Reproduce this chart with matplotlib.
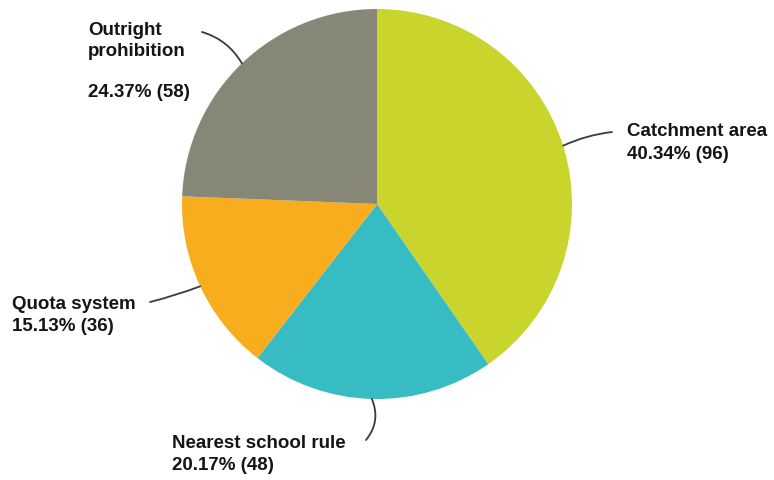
import numpy as np
import matplotlib
matplotlib.use("Agg")
import matplotlib.pyplot as plt

categories = ["Catchment area", "Nearest school rule", "Quota system", "Outright\nprohibition"]
values = [96, 48, 36, 58]
colors = ["#c9d42c", "#36bcc2", "#f8ad1e", "#878777"]

W, H = 774, 480
fig = plt.figure(figsize=(W / 100, H / 100), dpi=100)
ax = fig.add_axes([0, 0, 1, 1])

cx, cy, R = 377, 276, 195
wedges, _ = ax.pie(values, colors=colors, startangle=90, counterclock=False,
                   center=(cx, cy), radius=R, wedgeprops=dict(linewidth=0))
ax.set_xlim(0, W)
ax.set_ylim(0, H)
ax.set_aspect("equal")
ax.axis("off")

total = sum(values)
labels = []
for name, v in zip(categories, values):
    pct = v / total * 100
    sep = "\n\n" if "\n" in name else "\n"
    labels.append(f"{name}{sep}{pct:.2f}% ({v})")

# layout: text top-left (pixel coords from top), leader-line end, curvature
text_pos = [(627, 123), (172, 435), (12, 296), (88, 22)]
line_end = [(612, 132), (366, 440), (150, 302), (202, 32)]
rads = [0.08, 0.3, 0.03, -0.2]
spacings = [1.45, 1.4, 1.4, 1.28]

font = dict(family="Liberation Sans", weight="bold", size=13.5, color="#151515")

for w, lab, tp, le, rad, ls in zip(wedges, labels, text_pos, line_end, rads, spacings):
    ang = np.deg2rad((w.theta1 + w.theta2) / 2)
    ex, ey = cx + R * np.cos(ang), cy + R * np.sin(ang)
    ax.annotate("", xy=(ex, ey), xytext=(le[0], H - le[1]),
                arrowprops=dict(arrowstyle="-", color="#3a3a3a", lw=1.3,
                                shrinkA=0, shrinkB=0,
                                connectionstyle=f"arc3,rad={rad}"))
    ax.text(tp[0], H - tp[1], lab, ha="left", va="top", linespacing=ls, **font)

fig.savefig("out.png", dpi=100)
